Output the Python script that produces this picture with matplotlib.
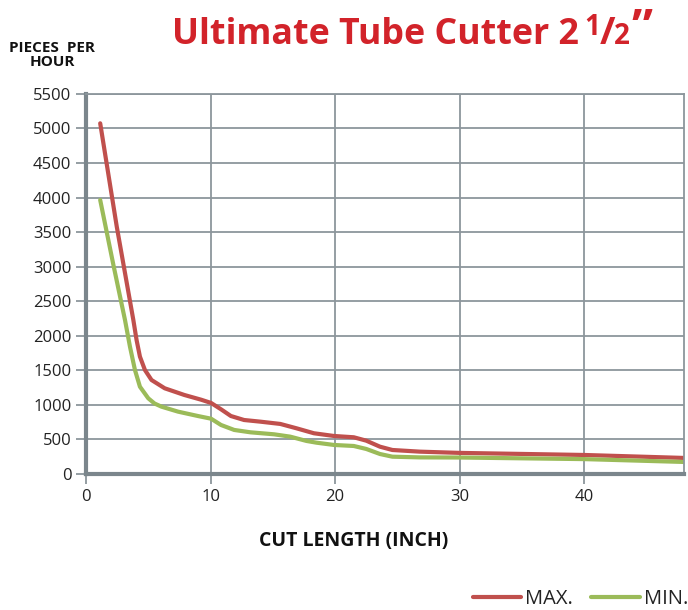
import matplotlib.pyplot as plt

# === DATA ===
max_x = [1.14, 2.47, 3.8, 4.06, 4.33, 4.73, 5.26, 6.32, 7.9, 9.24, 10.04, 10.84, 11.63, 12.69,
         14.0, 15.6, 16.9, 18.3, 19.9, 21.5, 22.5, 23.6, 24.6, 26.8, 30, 40, 48]
max_y = [5075, 3579, 2229, 1939, 1698, 1505, 1360, 1240, 1143, 1075, 1028, 936, 839, 781,
         757, 724, 661, 589, 550, 531, 482, 395, 347, 323, 305, 275, 232]

min_x = [1.14, 2.2, 3.13, 3.53, 3.93, 4.33, 5.0, 5.5, 6.06, 7.39, 8.98, 10.04, 10.84, 11.9, 13.2,
         15.1, 16.4, 17.7, 18.5, 19.9, 21.5, 22.5, 23.6, 24.6, 26.8, 30, 40, 48]
min_y = [3965, 3025, 2229, 1842, 1505, 1263, 1095, 1020, 974, 902, 839, 800, 709, 637, 603,
         574, 540, 478, 453, 420, 405, 362, 289, 250, 240, 238, 215, 174]

x_ticks = [0, 10, 20, 30, 40]
y_ticks = list(range(0, 5501, 500))

plt.rcParams['font.family'] = ['Open Sans', 'DejaVu Sans']

fig = plt.figure(figsize=(6.88, 6.10), dpi=100)
ax = fig.add_axes([0.125, 0.223, 0.869, 0.623])

red = '#c0504d'
green = '#9bbb59'
grid_c = '#8c969c'

ax.plot(max_x, max_y, color=red, lw=3, label='MAX.', solid_capstyle='round', solid_joinstyle='round')
ax.plot(min_x, min_y, color=green, lw=3, label='MIN.', solid_capstyle='round', solid_joinstyle='round')

ax.set_xlim(0, 48)
ax.set_ylim(0, 5500)
ax.set_xticks(x_ticks)
ax.set_yticks(y_ticks)
ax.grid(True, color=grid_c, lw=1.3)
ax.set_axisbelow(True)
for side in ['top', 'right']:
    ax.spines[side].set_color(grid_c)
    ax.spines[side].set_linewidth(1.3)
for side in ['left', 'bottom']:
    ax.spines[side].set_color('#7b868c')
    ax.spines[side].set_linewidth(3)
ax.tick_params(axis='both', colors=grid_c, labelcolor='#222222', labelsize=12,
               length=7, width=1.3, direction='out')

fig.text(354 / 688, 1 - 541 / 610, 'CUT LENGTH (INCH)', fontsize=14, fontweight='bold',
         color='#111111', ha='center', va='center')

# === TITLE with a hand-built 1/2 ===
tc = '#d2232a'
renderer = fig.canvas.get_renderer()
title = fig.text(172 / 688, 1 - 44.5 / 610, 'Ultimate Tube Cutter 2', fontsize=26,
                 fontweight='bold', color=tc, ha='left', va='baseline')
w = title.get_window_extent(renderer).width
title.set_fontsize(26 * 408 / w)
fig.text(584 / 688, 1 - 35 / 610, '1', fontsize=20, fontweight='bold', color=tc,
         ha='left', va='baseline')
fig.text(600 / 688, 1 - 44.5 / 610, '/', fontsize=27, fontweight='bold', color=tc,
         ha='left', va='baseline')
fig.text(614 / 688, 1 - 44.5 / 610, '2', fontsize=20, fontweight='bold', color=tc,
         ha='left', va='baseline')
fig.text(631 / 688, 1 - 42 / 610, '\u201d', fontsize=34, fontweight='bold', color=tc,
         ha='left', va='baseline')

fig.text(52 / 688, 1 - 54.5 / 610, 'PIECES  PER\nHOUR', fontsize=11, fontweight='bold',
         color='#111111', ha='center', va='center', linespacing=1.0)

fig.legend(loc='center right', bbox_to_anchor=(688 / 688, 1 - 599 / 610), ncol=2,
           frameon=False, fontsize=14.5, handlelength=2.4, handletextpad=0.2,
           columnspacing=0.9, borderaxespad=0, borderpad=0, labelcolor='#222222')

fig.savefig('out.png', dpi=100)
